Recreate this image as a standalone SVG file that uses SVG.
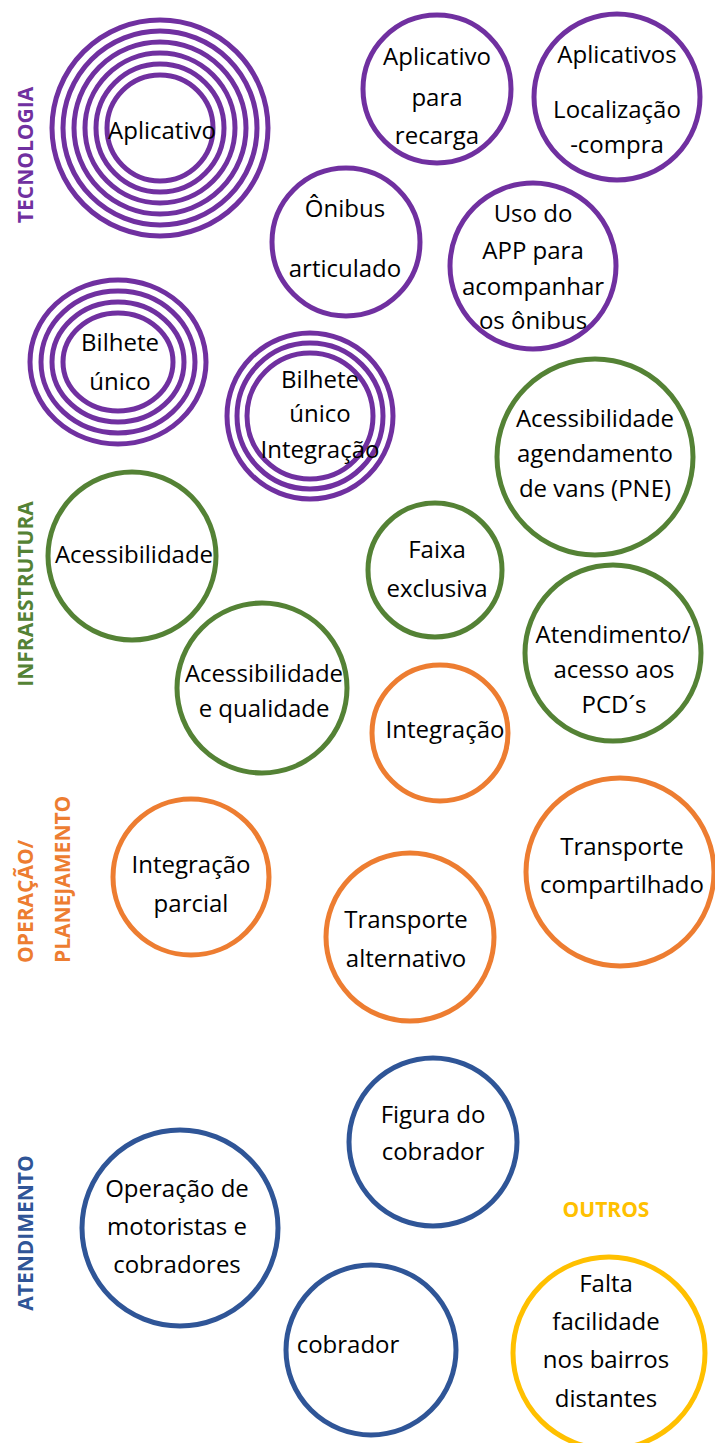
<svg xmlns="http://www.w3.org/2000/svg" width="715" height="1443" viewBox="0 0 715 1443">
<style>
.p{fill:none;stroke:#7030A0;stroke-width:5}
.g{fill:none;stroke:#548235;stroke-width:5}
.o{fill:none;stroke:#ED7D31;stroke-width:5}
.b{fill:none;stroke:#2F5597;stroke-width:5}
.y{fill:none;stroke:#FFC000;stroke-width:5}
.t{font-family:"Open Sans","Liberation Sans",sans-serif;font-size:24px;fill:#000;text-anchor:middle}
.lab{font-family:"Open Sans","Liberation Sans",sans-serif;font-size:21px;font-weight:bold}
</style>
<rect width="715" height="1443" fill="#fff"/>
<g id="labels">
<text class="lab" fill="#7030A0" text-anchor="middle" transform="translate(33,155) rotate(-90)">TECNOLOGIA</text>
<text class="lab" fill="#548235" text-anchor="middle" transform="translate(33,594) rotate(-90)">INFRAESTRUTURA</text>
<text class="lab" fill="#ED7D31" text-anchor="start" transform="translate(33,963) rotate(-90)">OPERAÇÃO/</text>
<text class="lab" fill="#ED7D31" text-anchor="start" transform="translate(70,963) rotate(-90)">PLANEJAMENTO</text>
<text class="lab" fill="#2F5597" text-anchor="middle" transform="translate(33,1233) rotate(-90)">ATENDIMENTO</text>
<text class="lab" fill="#FFC000" text-anchor="middle" x="606" y="1217">OUTROS</text>
</g>
<g id="connectors"/>
<g id="n-aplicativo">
<circle class="p" cx="160" cy="128" r="108"/><circle class="p" cx="160" cy="128" r="97"/><circle class="p" cx="160" cy="128" r="86"/><circle class="p" cx="160" cy="128" r="75"/><circle class="p" cx="160" cy="128" r="64"/><circle class="p" cx="160" cy="128" r="53"/>
<text class="t" x="162" y="139">Aplicativo</text>
</g>
<g id="n-recarga">
<circle class="p" cx="437" cy="89" r="74"/>
<text class="t" x="437" y="65">Aplicativo</text><text class="t" x="437" y="106">para</text><text class="t" x="437" y="144">recarga</text>
</g>
<g id="n-localizacao">
<circle class="p" cx="617" cy="97" r="83"/>
<text class="t" x="617" y="63">Aplicativos</text><text class="t" x="617" y="118">Localização</text><text class="t" x="617" y="153">-compra</text>
</g>
<g id="n-onibus">
<circle class="p" cx="346" cy="242" r="74"/>
<text class="t" x="345" y="217">Ônibus</text><text class="t" x="345" y="277">articulado</text>
</g>
<g id="n-app">
<circle class="p" cx="533" cy="266" r="83"/>
<text class="t" x="533" y="222">Uso do</text><text class="t" x="533" y="259">APP para</text><text class="t" x="533" y="295">acompanhar</text><text class="t" x="533" y="329">os ônibus</text>
</g>
<g id="n-bilhete">
<ellipse class="p" cx="118" cy="362" rx="88" ry="82"/><ellipse class="p" cx="118" cy="362" rx="77" ry="71"/><ellipse class="p" cx="118" cy="362" rx="66" ry="60"/><ellipse class="p" cx="118" cy="362" rx="55" ry="49"/>
<text class="t" x="120" y="351">Bilhete</text><text class="t" x="120" y="390">único</text>
</g>
<g id="n-bilhete-integracao">
<circle class="p" cx="310" cy="416" r="83"/><circle class="p" cx="310" cy="416" r="73"/><circle class="p" cx="310" cy="416" r="63"/>
<text class="t" x="320" y="388">Bilhete</text><text class="t" x="320" y="422">único</text><text class="t" x="320" y="458">Integração</text>
</g>
<g id="n-acess">
<circle class="g" cx="132" cy="556" r="84"/>
<text class="t" x="134" y="563">Acessibilidade</text>
</g>
<g id="n-acess-qual">
<circle class="g" cx="262" cy="688" r="85"/>
<text class="t" x="264" y="682">Acessibilidade</text><text class="t" x="264" y="717">e qualidade</text>
</g>
<g id="n-vans">
<circle class="g" cx="595" cy="457" r="98"/>
<text class="t" x="595" y="427">Acessibilidade</text><text class="t" x="595" y="462">agendamento</text><text class="t" x="595" y="497">de vans (PNE)</text>
</g>
<g id="n-faixa">
<circle class="g" cx="435" cy="570" r="67"/>
<text class="t" x="437" y="558">Faixa</text><text class="t" x="437" y="597">exclusiva</text>
</g>
<g id="n-pcd">
<circle class="g" cx="613" cy="653" r="88"/>
<text class="t" x="613" y="643">Atendimento/</text><text class="t" x="614" y="678">acesso aos</text><text class="t" x="614" y="713">PCD´s</text>
</g>
<g id="n-integracao">
<circle class="o" cx="440" cy="733" r="68"/>
<text class="t" x="445" y="738">Integração</text>
</g>
<g id="n-integracao-parcial">
<circle class="o" cx="191" cy="877" r="78"/>
<text class="t" x="191" y="873">Integração</text><text class="t" x="191" y="912">parcial</text>
</g>
<g id="n-alternativo">
<circle class="o" cx="410" cy="937" r="84"/>
<text class="t" x="406" y="928">Transporte</text><text class="t" x="406" y="967">alternativo</text>
</g>
<g id="n-compartilhado">
<circle class="o" cx="620" cy="872" r="94"/>
<text class="t" x="622" y="855">Transporte</text><text class="t" x="622" y="893">compartilhado</text>
</g>
<g id="n-figura">
<circle class="b" cx="433" cy="1142" r="84"/>
<text class="t" x="433" y="1123">Figura do</text><text class="t" x="433" y="1160">cobrador</text>
</g>
<g id="n-operacao">
<circle class="b" cx="180" cy="1228" r="98"/>
<text class="t" x="177" y="1197">Operação de</text><text class="t" x="177" y="1235">motoristas e</text><text class="t" x="177" y="1273">cobradores</text>
</g>
<g id="n-cobrador">
<circle class="b" cx="371" cy="1350" r="85"/>
<text class="t" x="348" y="1353">cobrador</text>
</g>
<g id="n-falta">
<circle class="y" cx="609" cy="1353" r="96"/>
<text class="t" x="606" y="1292">Falta</text><text class="t" x="606" y="1330">facilidade</text><text class="t" x="606" y="1368">nos bairros</text><text class="t" x="606" y="1407">distantes</text>
</g>
</svg>
